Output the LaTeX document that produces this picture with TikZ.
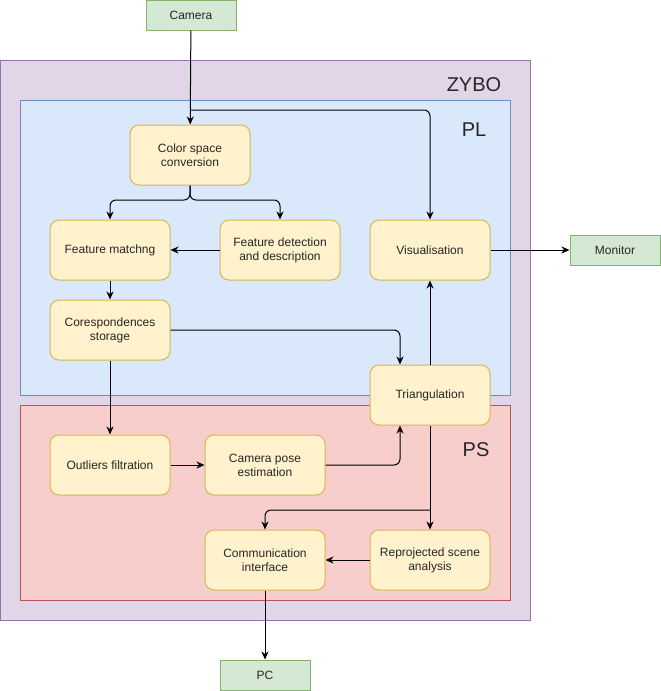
\documentclass[tikz,border=0pt]{standalone}
\usepackage{fontspec}
\setmainfont{Liberation Sans}
\usetikzlibrary{arrows.meta}

\definecolor{stepfill}{HTML}{FFF2CC}
\definecolor{stepline}{HTML}{D6B656}
\definecolor{iofill}{HTML}{D5E8D4}
\definecolor{ioline}{HTML}{82B366}
\definecolor{plfill}{HTML}{DAE8FC}
\definecolor{plline}{HTML}{6C8EBF}
\definecolor{psfill}{HTML}{F8CECC}
\definecolor{psline}{HTML}{B85450}
\definecolor{zybofill}{HTML}{E1D5E7}
\definecolor{zyboline}{HTML}{9673A6}

\tikzset{
    block/.style={draw=stepline, fill=stepfill, rounded corners=9pt, line width=1pt,
            minimum width=120pt, minimum height=60pt, align=center,
            font=\fontsize{12}{14}\selectfont, text=black!85},
    iobox/.style={draw=ioline, fill=iofill, line width=1pt,
            minimum width=90pt, minimum height=30pt,
            font=\fontsize{12}{14}\selectfont, text=black!85},
    arr/.style={-{Stealth[length=8pt,width=7pt,inset=2.5pt]}, line width=1pt, rounded corners=6pt},
    area/.style={font=\fontsize{20}{24}\selectfont, text=black!85}
}

\begin{document}
\begin{tikzpicture}[x=1pt,y=-1pt]
    \useasboundingbox (0,0) rectangle (661,691);

    % regions
    \filldraw[fill=zybofill, draw=zyboline, line width=1pt] (0.5,60) rectangle (530,620);
    \filldraw[fill=plfill, draw=plline, line width=1pt] (20,100) rectangle (510,395);
    \filldraw[fill=psfill, draw=psline, line width=1pt] (20,405) rectangle (510,600);
    \node[area] (zybo) at (474,85) {ZYBO};
    \node[area] (pl) at (474,130) {PL};
    \node[area] (ps) at (476,450) {PS};

    % outside
    \node[iobox] (cam) at (191,15) {Camera};
    \node[iobox] (mon) at (615,250) {Monitor};
    \node[iobox] (pc) at (265,675) {PC};

    % blocks
    \node[block] (csc) at (190,155) {Color space\\conversion};
    \node[block] (fm) at (110,250) {Feature matchng};
    \node[block] (fd) at (280,250) {Feature detection\\and description};
    \node[block] (vis) at (430,250) {Visualisation};
    \node[block] (cs) at (110,330) {Corespondences\\storage};
    \node[block] (tri) at (430,395) {Triangulation};
    \node[block] (of) at (110,465) {Outliers filtration};
    \node[block] (cpe) at (265,465) {Camera pose\\estimation};
    \node[block] (ci) at (265,560) {Communication\\interface};
    \node[block] (rsa) at (430,560) {Reprojected scene\\analysis};

    \coordinate (split1) at (191,110);
    \coordinate (split2) at (190,200);
    \coordinate (split3) at (430,510);

    % connectors
    \draw[arr] (cam) -- (csc);
    \draw[arr] (split1) -| (vis.north);
    \draw[arr] (csc.south) -- (split2) -| (fm.north);
    \draw[arr] (csc.south) -- (split2) -| (fd.north);
    \draw[arr] (fd) -- (fm);
    \draw[arr] (fm) -- (cs);
    \draw[arr] (cs.east) -| ([xshift=-30pt]tri.north);
    \draw[arr] (cs) -- (of);
    \draw[arr] (of) -- (cpe);
    \draw[arr] (cpe.east) -| ([xshift=-30pt]tri.south);
    \draw[arr] (tri) -- (vis);
    \draw[arr] (vis) -- (mon);
    \draw[arr] (tri) -- (rsa);
    \draw[arr] (split3) -| (ci.north);
    \draw[arr] (rsa) -- (ci);
    \draw[arr] (ci) -- (pc);
\end{tikzpicture}
\end{document}
